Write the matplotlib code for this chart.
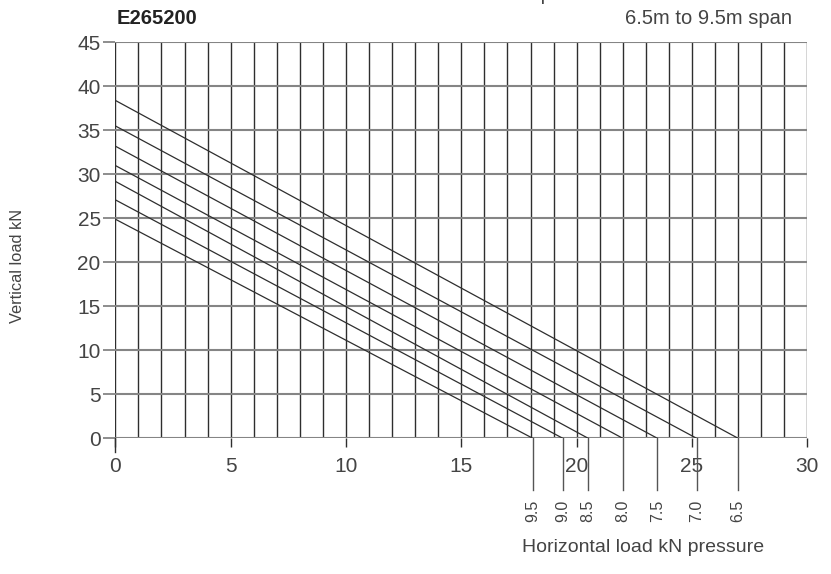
import matplotlib.pyplot as plt
import numpy as np

plt.rcParams['font.family'] = ['Liberation Sans', 'DejaVu Sans']

# span lines: (vertical load at H=0, horizontal load at V=0)
spans = ['6.5', '7.0', '7.5', '8.0', '8.5', '9.0', '9.5']
v_intercepts = [38.4, 35.5, 33.2, 31.0, 29.2, 27.1, 24.9]
h_intercepts = [27.0, 25.2, 23.5, 22.0, 20.5, 19.4, 18.1]

x_ticks = [0, 5, 10, 15, 20, 25, 30]
y_ticks = [0, 5, 10, 15, 20, 25, 30, 35, 40, 45]

txt = '#444444'
dark = '#2e2e2e'
grey = '#858585'

fig = plt.figure(figsize=(8.31, 5.74), dpi=100)
ax = fig.add_axes([115.3 / 831, (574 - 438.3) / 574, 692 / 831, 396 / 574])
ax.set_xlim(0, 30)
ax.set_ylim(0, 45)
for s in ax.spines.values():
    s.set_visible(False)

# grid
ax.vlines(np.arange(0, 31, 1), 0, 45, color=dark, lw=1.0, zorder=1)
ax.hlines(y_ticks, 0, 30, color=grey, lw=1.5, zorder=1.5)

# span lines
for v, h in zip(v_intercepts, h_intercepts):
    ax.plot([0, h], [v, 0], color=dark, lw=0.9, zorder=2)
    ax.plot([h, h], [0, -5.9], color='#555555', lw=1.0, clip_on=False, zorder=2)

# long tick at origin
ax.plot([0, 0], [0, -1.6], color=dark, lw=1.0, clip_on=False, zorder=2)

for s, h in zip(spans, h_intercepts):
    ax.text(h, -8.2, s, rotation=90, ha='center', va='center', fontsize=11.5, color=txt)

ax.set_xticks(x_ticks)
ax.set_yticks(y_ticks)
ax.tick_params(axis='x', length=6.8, width=1.0, color=dark, labelsize=15,
               labelcolor=txt, pad=7)
ax.tick_params(axis='y', length=9, width=1.3, color=grey, labelsize=15,
               labelcolor=txt, pad=1.5)
for lbl in ax.get_xticklabels():
    lbl.set_bbox(dict(facecolor='white', edgecolor='none', pad=1.5))

fig.text(117 / 831, 1 - 24 / 574, 'E265200', fontsize=14.5, fontweight='bold',
         color='#222222', ha='left', va='baseline')
fig.text(792 / 831, 1 - 24 / 574, '6.5m to 9.5m span', fontsize=14.5, color=txt,
         ha='right', va='baseline')
fig.text(643 / 831, 1 - 548 / 574, 'Horizontal load kN pressure', fontsize=14,
         color=txt, ha='center', va='center')
fig.text(18 / 831, 1 - 266 / 574, 'Vertical load kN', fontsize=11.8, color=txt,
         rotation=90, ha='center', va='center')
# caption of the chart above, cut off by the page edge
fig.text(496 / 831, 1 - 0.5 / 574, 'Horizontal load kN pressure', fontsize=14,
         color=txt, ha='center', va='baseline')

fig.savefig('out.png', dpi=100)
